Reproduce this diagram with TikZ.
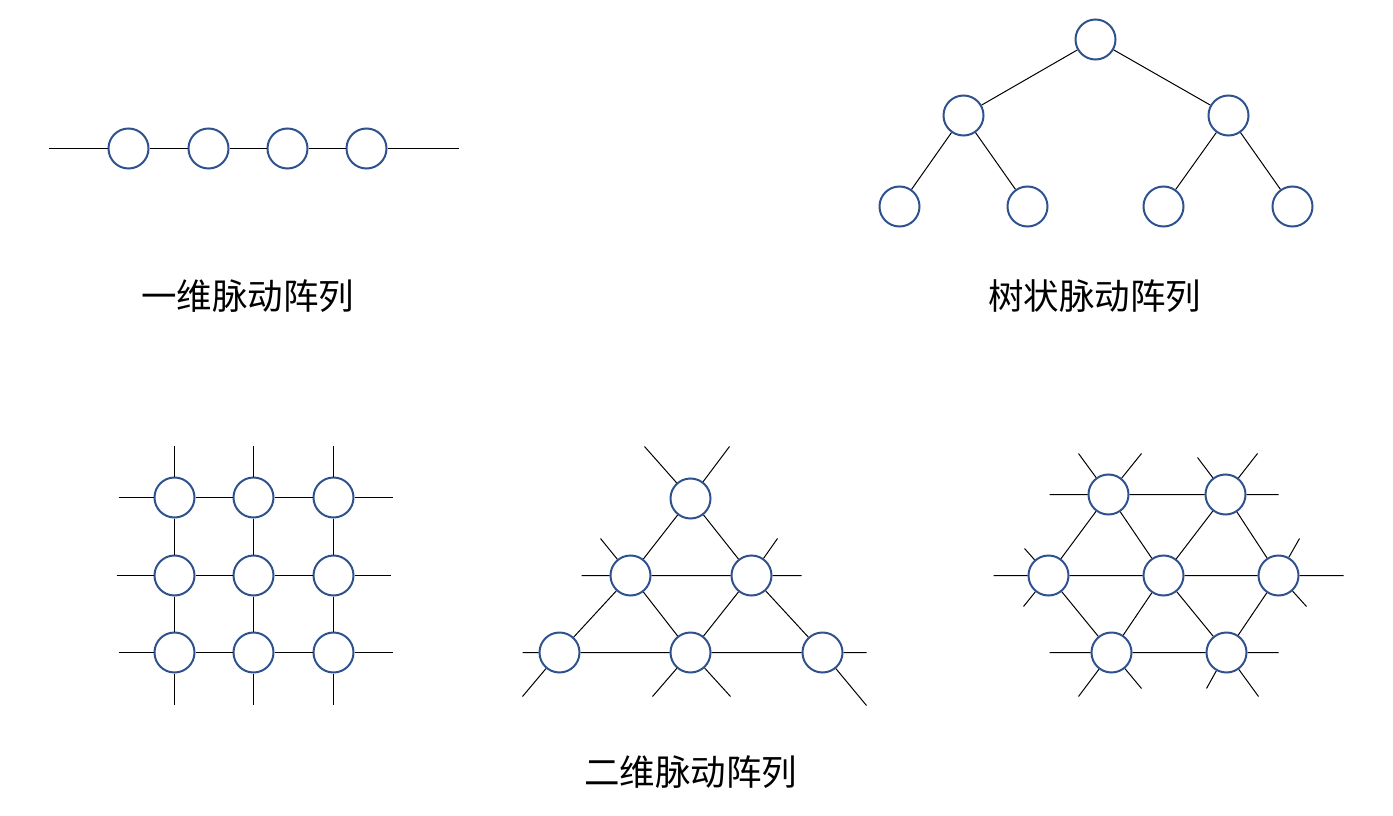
\documentclass[tikz,border=0pt]{standalone}
\usepackage{fontspec}
\newfontfamily\cjk{Noto Sans CJK SC}
\definecolor{nodeblue}{RGB}{47,82,143}
\tikzset{
  pe/.style={circle,draw=nodeblue,line width=2pt,fill=white,minimum size=40pt,inner sep=0pt},
  link/.style={draw=black,line width=1pt},
  title/.style={font=\cjk\fontsize{35.5}{40}\selectfont,inner sep=0pt}
}
\begin{document}
\begin{tikzpicture}[x=1pt,y=-1pt]
\useasboundingbox[fill=white] (-0.5,-0.5) rectangle (1392.5,815.5);
% ---- 1D array
\foreach \n/\x in {a1/128,a2/208,a3/287,a4/366} \node[pe] (\n) at (\x,148) {};
\coordinate (aL) at (48,148);
\coordinate (aR) at (458,148);
\draw[link] (aL) -- (a1) (a1) -- (a2) (a2) -- (a3) (a3) -- (a4) (a4) -- (aR);
\node[title] (t1) at (247,296) {一维脉动阵列};
% ---- tree
\node[pe] (r) at (1095,39) {};
\node[pe] (c1) at (963,115) {};
\node[pe] (c2) at (1228,115) {};
\node[pe] (l1) at (899,206) {};
\node[pe] (l2) at (1027,206) {};
\node[pe] (l3) at (1163,206) {};
\node[pe] (l4) at (1292,206) {};
\draw[link] (r) -- (c1) (r) -- (c2) (c1) -- (l1) (c1) -- (l2) (c2) -- (l3) (c2) -- (l4);
\node[title] (t2) at (1094,296) {树状脉动阵列};
% ---- mesh
\foreach \i/\x in {1/174,2/253,3/333}
  \foreach \j/\y in {1/497,2/575,3/652}
    \node[pe] (m\i\j) at (\x,\y) {};
\foreach \i/\x in {1/174,2/253,3/333} {
  \coordinate (mt\i) at (\x,445);
  \coordinate (mb\i) at (\x,704);
  \draw[link] (mt\i) -- (m\i1) (m\i1) -- (m\i2) (m\i2) -- (m\i3) (m\i3) -- (mb\i);
}
\foreach \j/\y/\l/\r in {1/497/118/392,2/575/116/390,3/652/118/392} {
  \coordinate (ml\j) at (\l,\y);
  \coordinate (mr\j) at (\r,\y);
  \draw[link] (ml\j) -- (m1\j) (m1\j) -- (m2\j) (m2\j) -- (m3\j) (m3\j) -- (mr\j);
}
% ---- triangle
\node[pe] (T) at (690,498) {};
\node[pe] (L2) at (630,575) {};
\node[pe] (R2) at (751,575) {};
\node[pe] (B1) at (559,652) {};
\node[pe] (B2) at (690,652) {};
\node[pe] (B3) at (822,652) {};
\draw[link] (T) -- (L2) (T) -- (R2) (L2) -- (R2) (L2) -- (B1) (L2) -- (B2)
  (R2) -- (B2) (R2) -- (B3) (B1) -- (B2) (B2) -- (B3);
\coordinate (tT1) at (644,446);
\coordinate (tT2) at (729,446);
\coordinate (tL1) at (581,575);
\coordinate (tL2) at (600,538);
\coordinate (tR1) at (801,575);
\coordinate (tR2) at (777,538);
\coordinate (tB1a) at (522,652);
\coordinate (tB1b) at (522,696);
\coordinate (tB2a) at (652,696);
\coordinate (tB2b) at (730,696);
\coordinate (tB3a) at (866,652);
\coordinate (tB3b) at (866,705);
\draw[link] (T) -- (tT1) (T) -- (tT2) (L2) -- (tL1) (L2) -- (tL2) (R2) -- (tR1) (R2) -- (tR2)
  (B1) -- (tB1a) (B1) -- (tB1b) (B2) -- (tB2a) (B2) -- (tB2b) (B3) -- (tB3a) (B3) -- (tB3b);
% ---- hexagonal
\node[pe] (HTL) at (1108,494) {};
\node[pe] (HTR) at (1225,494) {};
\node[pe] (HML) at (1048,575) {};
\node[pe] (HMC) at (1163,575) {};
\node[pe] (HMR) at (1278,575) {};
\node[pe] (HBL) at (1111,652) {};
\node[pe] (HBR) at (1226,652) {};
\draw[link] (HTL) -- (HTR) (HTL) -- (HML) (HTL) -- (HMC) (HTR) -- (HMC) (HTR) -- (HMR)
  (HML) -- (HMC) (HMC) -- (HMR) (HML) -- (HBL) (HMC) -- (HBL) (HMC) -- (HBR)
  (HMR) -- (HBR) (HBL) -- (HBR);
\coordinate (hTLa) at (1049,494);
\coordinate (hTLb) at (1078,453);
\coordinate (hTLc) at (1141,453);
\coordinate (hTRa) at (1278,494);
\coordinate (hTRb) at (1197,457);
\coordinate (hTRc) at (1257,453);
\coordinate (hMLa) at (993,575);
\coordinate (hMLb) at (1024,548);
\coordinate (hMLc) at (1023,606);
\coordinate (hMRa) at (1343,575);
\coordinate (hMRb) at (1299,538);
\coordinate (hMRc) at (1306,606);
\coordinate (hBLa) at (1049,652);
\coordinate (hBLb) at (1078,696);
\coordinate (hBLc) at (1141,688);
\coordinate (hBRa) at (1278,652);
\coordinate (hBRb) at (1206,688);
\coordinate (hBRc) at (1258,696);
\draw[link] (HTL) -- (hTLa) (HTL) -- (hTLb) (HTL) -- (hTLc)
  (HTR) -- (hTRa) (HTR) -- (hTRb) (HTR) -- (hTRc)
  (HML) -- (hMLa) (HML) -- (hMLb) (HML) -- (hMLc)
  (HMR) -- (hMRa) (HMR) -- (hMRb) (HMR) -- (hMRc)
  (HBL) -- (hBLa) (HBL) -- (hBLb) (HBL) -- (hBLc)
  (HBR) -- (hBRa) (HBR) -- (hBRb) (HBR) -- (hBRc);
\node[title] (t3) at (690,772) {二维脉动阵列};
\end{tikzpicture}
\end{document}
